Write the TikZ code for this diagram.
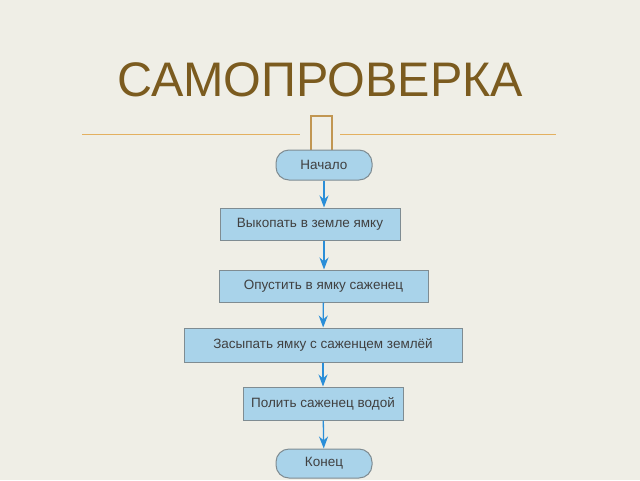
\documentclass[tikz,border=0pt]{standalone}
\usepackage{fontspec}
\setmainfont{Liberation Sans}
\usetikzlibrary{arrows.meta}
\definecolor{bgcol}{HTML}{EFEEE6}
\definecolor{titlecol}{HTML}{7B5B1F}
\definecolor{linecol}{HTML}{E3B060}
\definecolor{boxfill}{HTML}{A9D3EA}
\definecolor{boxdraw}{HTML}{7F8C92}
\definecolor{arrcol}{HTML}{2A8ED8}
\tikzset{
  flowbox/.style={draw=boxdraw, fill=boxfill, line width=1pt, inner sep=0pt,
    font=\fontsize{13.5}{16}\selectfont, text=black!75},
  term/.style={flowbox, rounded corners=13pt},
  arrow/.style={draw=arrcol, line width=1.3pt, -{Stealth[length=12pt,width=9pt]}}
}
\begin{document}
\begin{tikzpicture}[x=1pt,y=-1pt]
    % background
    \fill[bgcol] (0,0) rectangle (640,480);
    \useasboundingbox (0,0) rectangle (640,480);

    % title
    \node (title) at (320,80) [text=titlecol, font=\fontsize{48.5}{52}\selectfont] {САМОПРОВЕРКА};
    \draw[linecol, line width=1pt] (82,134) -- (300,134);
    \draw[linecol, line width=1pt] (340,134) -- (556,134);
    \draw[linecol!85!black, line width=2.6pt] (311,150) -- (311,116) -- (332,116) -- (332,150);

    % steps
    \node (start) [term, minimum width=96pt, minimum height=30pt] at (324,165) {Начало};
    \node (dig) [flowbox, minimum width=180pt, minimum height=32pt] at (310,224) {Выкопать в земле ямку};
    \node (put) [flowbox, minimum width=209pt, minimum height=32pt] at (323.5,286) {Опустить в ямку саженец};
    \node (fill) [flowbox, minimum width=278pt, minimum height=34pt] at (323,345) {Засыпать ямку с саженцем землёй};
    \node (water) [flowbox, minimum width=160pt, minimum height=33pt] at (323,403.5) {Полить саженец водой};
    \node (stop) [term, minimum width=96pt, minimum height=29pt] at (324,463.5) {Конец};

    % connections
    \draw[arrow] (start) -- (start |- dig.north);
    \draw[arrow] (start |- dig.south) -- (start |- put.north);
    \draw[arrow] (put) -- (fill);
    \draw[arrow] (fill) -- (water);
    \draw[arrow] (water) -- (stop);
\end{tikzpicture}
\end{document}
